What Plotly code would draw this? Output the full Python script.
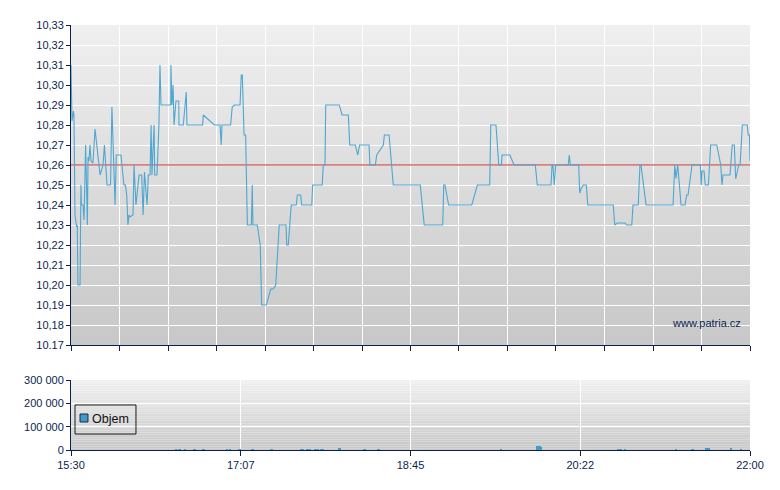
import numpy as np
import pandas as pd
import plotly.graph_objects as go

# ---- data ----
session_start = "2024-01-01 15:30:00"
session_minutes = 390  # 15:30 -> 22:00

price_minutes = [
    0.0, 0.57, 1.4, 1.7, 2.3, 3.2, 3.6, 4.0, 5.2, 5.7, 6.0, 6.9, 7.5, 8.4, 9.4, 9.8,
    10.3, 10.9, 11.5, 12.6, 13.8, 16.7, 18.4, 19.2, 20.7, 22.7, 23.5, 25.3, 26.0, 28.7,
    29.6, 30.4, 31.3, 32.0, 32.7, 33.3, 33.9, 35.6, 36.2, 37.3, 39.1, 40.6, 41.4, 42.2,
    43.7, 44.4, 45.4, 46.0, 46.5, 47.7, 48.1, 49.4, 50.5, 51.1, 51.7, 57.3, 57.4, 58.0,
    58.6, 59.2, 60.3, 61.9, 62.0, 64.5, 66.2, 66.6, 75.6, 76.0, 82.3, 85.6, 86.3, 86.7,
    91.7, 92.6, 93.8, 97.1, 97.8, 98.4, 99.4, 100.3, 101.3, 103.6, 104.1, 104.5, 107.0,
    108.4, 108.7, 109.5, 112.2, 114.7, 116.2, 117.6, 119.6, 123.5, 123.9, 124.8, 126.5,
    129.4, 130.0, 131.9, 132.5, 138.3, 138.8, 144.3, 144.9, 145.9, 146.3, 154.1, 155.7,
    159.3, 160.1, 163.3, 164.7, 165.8, 171.2, 171.7, 174.8, 175.6, 179.4, 180.0, 182.7,
    185.1, 200.6, 202.9, 213.5, 214.1, 214.8, 216.9, 230.2, 233.4, 240.5, 241.1, 244.1,
    245.7, 247.2, 247.6, 252.1, 254.5, 266.7, 267.8, 275.7, 276.3, 276.8, 277.6, 278.4,
    285.6, 286.2, 286.8, 291.6, 292.2, 292.9, 294.3, 296.0, 296.8, 311.5, 312.3, 313.8,
    318.2, 319.2, 322.1, 322.8, 325.8, 326.8, 327.4, 330.3, 345.8, 346.8, 347.5, 348.5,
    350.4, 352.7, 353.6, 354.4, 356.7, 361.5, 362.0, 362.4, 363.6, 364.3, 366.1, 367.4,
    370.9, 373.2, 373.9, 374.5, 378.5, 379.8, 381.0, 381.8, 383.5, 384.3, 385.6, 388.4,
    389.0, 389.7, 390.0,
]
price_values = [
    10.310, 10.282, 10.287, 10.285, 10.235, 10.229, 10.230, 10.200, 10.200, 10.250, 10.240,
    10.240, 10.2325, 10.270, 10.230, 10.264, 10.262, 10.270, 10.262, 10.261, 10.278, 10.255,
    10.260, 10.270, 10.250, 10.250, 10.289, 10.240, 10.265, 10.265, 10.255, 10.250, 10.250,
    10.245, 10.230, 10.235, 10.234, 10.235, 10.260, 10.240, 10.255, 10.255, 10.235, 10.2565,
    10.240, 10.255, 10.255, 10.280, 10.255, 10.280, 10.255, 10.255, 10.280, 10.310, 10.290,
    10.290, 10.310, 10.290, 10.300, 10.280, 10.292, 10.292, 10.280, 10.280, 10.2965, 10.280,
    10.280, 10.285, 10.280, 10.280, 10.270, 10.280, 10.280, 10.289, 10.290, 10.290, 10.305,
    10.305, 10.275, 10.275, 10.230, 10.230, 10.250, 10.230, 10.230, 10.220, 10.220, 10.190,
    10.190, 10.198, 10.198, 10.200, 10.230, 10.230, 10.220, 10.220, 10.240, 10.240, 10.245,
    10.245, 10.240, 10.240, 10.250, 10.250, 10.260, 10.260, 10.290, 10.290, 10.285, 10.285,
    10.270, 10.270, 10.265, 10.270, 10.270, 10.260, 10.260, 10.265, 10.270, 10.275, 10.275,
    10.250, 10.250, 10.230, 10.230, 10.250, 10.250, 10.240, 10.240, 10.250, 10.250, 10.280,
    10.280, 10.260, 10.260, 10.265, 10.265, 10.260, 10.260, 10.250, 10.250, 10.260, 10.260,
    10.250, 10.260, 10.260, 10.265, 10.260, 10.260, 10.246, 10.248, 10.250, 10.250, 10.240,
    10.240, 10.230, 10.231, 10.231, 10.230, 10.230, 10.240, 10.240, 10.260, 10.260, 10.240,
    10.240, 10.260, 10.2533, 10.260, 10.240, 10.240, 10.245, 10.245, 10.260, 10.260, 10.250,
    10.257, 10.257, 10.250, 10.250, 10.270, 10.270, 10.260, 10.250, 10.255, 10.255, 10.270,
    10.270, 10.253, 10.260, 10.260, 10.280, 10.280, 10.275, 10.275, 10.262,
]
reference_price = 10.26

volume_minutes = [
    60.3, 62.2, 65.5, 70.8, 76.0, 89.6, 91.4, 96.7, 104.4, 115.3, 132.2, 133.3, 135.7,
    137.3, 140.5, 141.7, 143.6, 144.8, 154.1, 168.5, 176.5, 247.0, 267.9, 269.1, 270.0,
    314.6, 315.8, 318.2, 347.5, 357.0, 365.0, 366.1, 379.1, 384.8,
]
volume_values = [
    3000, 2500, 3000, 2000, 4000, 4000, 4000, 3000, 2000, 2000, 3500, 3500, 3000,
    3000, 3000, 3000, 4000, 4000, 9000, 2000, 2000, 2000, 18000, 18000, 11000,
    3000, 3000, 2500, 2500, 3000, 6000, 6000, 5000, 2000,
]

price_ticks = [10.33, 10.32, 10.31, 10.30, 10.29, 10.28, 10.27, 10.26, 10.25, 10.24,
               10.23, 10.22, 10.21, 10.20, 10.19, 10.18, 10.17]
price_tick_labels = ["10,33", "10,32", "10,31", "10,30", "10,29", "10,28", "10,27",
                     "10,26", "10,25", "10,24", "10,23", "10,22", "10,21", "10,20",
                     "10,19", "10,18", "10.17"]
volume_ticks = [0, 100000, 200000, 300000]
volume_tick_labels = ["0", "100 000", "200 000", "300 000"]
time_tick_labels = ["15:30", "17:07", "18:45", "20:22", "22:00"]
price_grid_divisions = 14
legend_label = "Objem"
watermark = "www.patria.cz"

# ---- build ----
base = pd.Timestamp(session_start)
pt = (base + pd.to_timedelta(price_minutes, unit="min")).round("s")
vt = (base + pd.to_timedelta(volume_minutes, unit="min")).round("s")
t_end = base + pd.Timedelta(minutes=session_minutes)
top_grid = [(base + pd.Timedelta(minutes=session_minutes * k / price_grid_divisions)).round("s")
            for k in range(price_grid_divisions + 1)]
bottom_ticks = [(base + pd.Timedelta(minutes=session_minutes * k / 4)).round("s") for k in range(5)]

navy = "#0c1f4e"
fam = "Liberation Sans, Arial, sans-serif"
font = dict(family=fam, size=11, color=navy)
bar_color = "#3e9ccb"

fig = go.Figure()
# reference level line (drawn first so that the price line sits above it)
fig.add_trace(go.Scatter(x=[base, t_end], y=[reference_price, reference_price],
                         mode="lines", line=dict(color="#c42a2a", width=1),
                         xaxis="x", yaxis="y", showlegend=False, hoverinfo="skip"))
fig.add_trace(go.Scatter(x=pt, y=price_values, mode="lines",
                         line=dict(color="#4ea6d1", width=1.1),
                         xaxis="x", yaxis="y", showlegend=False, hoverinfo="skip"))
fig.add_trace(go.Bar(x=vt, y=volume_values, name=legend_label,
                     marker=dict(color=bar_color, line=dict(width=0)),
                     width=90000, xaxis="x2", yaxis="y2", showlegend=False))

# gradient background bands
shapes = []
nb = 40
for ax_x, ax_y in (("x", "y"), ("x2", "y2")):
    for i in range(nb):
        f = (i + 0.5) / nb
        c = int(round(200 + (239 - 200) * f))
        shapes.append(dict(type="rect", xref=f"{ax_x} domain", yref=f"{ax_y} domain",
                           x0=0, x1=1, y0=i / nb, y1=(i + 1) / nb,
                           fillcolor=f"rgb({c},{c},{c})", line=dict(width=0),
                           layer="below"))

# compact legend box for the volume series (box + swatch + label)
shapes.append(dict(type="rect", xref="paper", yref="paper",
                   x0=0.0059, x1=0.0957, y0=0.0376, y1=0.1059,
                   line=dict(color="#1a1a1a", width=1), fillcolor="rgba(0,0,0,0)",
                   layer="above"))
shapes.append(dict(type="rect", xref="paper", yref="paper",
                   x0=0.0133, x1=0.0250, y0=0.0659, y1=0.0847,
                   line=dict(color="#1a2a44", width=1), fillcolor=bar_color,
                   layer="above"))

# page body has an 8px margin: figure is placed at (8,8) inside the 780x490 window
fig.update_layout(
    width=772, height=482,
    margin=dict(l=63, r=30, t=17, b=40),
    paper_bgcolor="white", plot_bgcolor="rgba(0,0,0,0)",
    font=font,
    shapes=shapes,
    bargap=0,
    showlegend=False,
    xaxis=dict(domain=[0, 1], anchor="y", type="date",
               range=[base, t_end], tickvals=top_grid, showticklabels=False,
               ticks="outside", ticklen=5, tickcolor=navy,
               showgrid=True, gridcolor="white", gridwidth=1,
               showline=True, linecolor=navy, linewidth=1, zeroline=False),
    yaxis=dict(domain=[0.247, 1], anchor="x", range=[10.17, 10.33],
               tickvals=price_ticks, ticktext=price_tick_labels,
               ticks="outside", ticklen=4, tickcolor=navy,
               showgrid=True, gridcolor="white", gridwidth=1,
               showline=True, linecolor=navy, linewidth=1, zeroline=False),
    xaxis2=dict(domain=[0, 1], anchor="y2", type="date",
                range=[base, t_end], tickvals=bottom_ticks, ticktext=time_tick_labels,
                ticks="outside", ticklen=5, tickcolor=navy,
                showgrid=True, gridcolor="white", gridwidth=1,
                showline=True, linecolor=navy, linewidth=1, zeroline=False),
    yaxis2=dict(domain=[0, 0.1647], anchor="x2", range=[0, 300000],
                tickvals=volume_ticks, ticktext=volume_tick_labels,
                ticks="outside", ticklen=4, tickcolor=navy,
                showgrid=True, gridcolor="white", gridwidth=1,
                showline=True, linecolor=navy, linewidth=1, zeroline=False),
    annotations=[
        dict(text=watermark, xref="paper", yref="paper",
             x=0.9897, y=0.2988, xanchor="right", yanchor="middle",
             showarrow=False, font=dict(family=fam, size=11, color=navy)),
        dict(text=legend_label, xref="paper", yref="paper",
             x=0.0280, y=0.0740, xanchor="left", yanchor="middle",
             showarrow=False, font=dict(family=fam, size=12.5, color="#111111")),
    ],
)

fig.write_html("out.html")
